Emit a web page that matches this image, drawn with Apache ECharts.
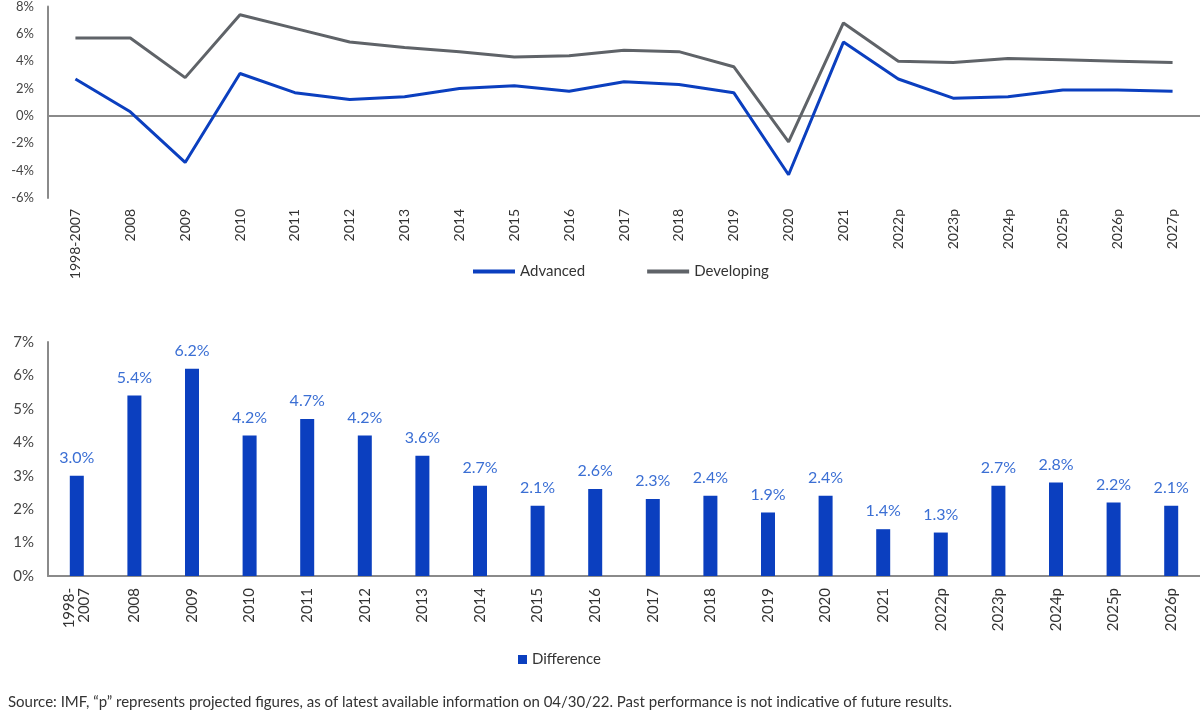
<!DOCTYPE html>
<html>
<head>
<meta charset="utf-8">
<script src="https://cdn.jsdelivr.net/npm/echarts@6/dist/echarts.min.js"></script>
<style>
html, body { margin: 0; padding: 0; background: #fff; }
#chart { width: 1200px; height: 723px; }
</style>
</head>
<body>
<div id="chart"></div>
<script>
// top chart: GDP growth
var lineYears = ['1998-2007','2008','2009','2010','2011','2012','2013','2014','2015','2016','2017','2018','2019','2020','2021','2022p','2023p','2024p','2025p','2026p','2027p'];
var advanced = [2.7, 0.3, -3.4, 3.1, 1.7, 1.2, 1.4, 2.0, 2.2, 1.8, 2.5, 2.3, 1.7, -4.3, 5.4, 2.7, 1.3, 1.4, 1.9, 1.9, 1.8];
var developing = [5.7, 5.7, 2.8, 7.4, 6.4, 5.4, 5.0, 4.7, 4.3, 4.4, 4.8, 4.7, 3.6, -1.9, 6.8, 4.0, 3.9, 4.2, 4.1, 4.0, 3.9];
var lineTicks = { min: -6, max: 8, interval: 2 };

// bottom chart: difference
var barYears = ['1998-\n2007','2008','2009','2010','2011','2012','2013','2014','2015','2016','2017','2018','2019','2020','2021','2022p','2023p','2024p','2025p','2026p'];
var difference = [3.0, 5.4, 6.2, 4.2, 4.7, 4.2, 3.6, 2.7, 2.1, 2.6, 2.3, 2.4, 1.9, 2.4, 1.4, 1.3, 2.7, 2.8, 2.2, 2.1];
var barTicks = { min: 0, max: 7, interval: 1 };

var sourceNote = 'Source: IMF, \u201cp\u201d represents projected figures, as of latest available information on 04/30/22. Past performance is not indicative of future results.';

var font = 'Lato, "Open Sans", sans-serif';
var blue = '#0b3fbf';
var gray = '#5f6368';
var axisGray = '#8a8a8a';

var myChart = echarts.init(document.getElementById('chart'));
var option = {
    animation: false,
    textStyle: { fontFamily: font },
    legend: [
        {
            left: 468,
            top: 259,
            itemWidth: 42,
            itemHeight: 4,
            itemGap: 62,
            textStyle: { fontSize: 15, color: '#333', fontFamily: font },
            data: [{ name: 'Advanced', icon: 'rect' }, { name: 'Developing', icon: 'rect' }]
        },
        {
            left: 513,
            top: 647,
            itemWidth: 9,
            itemHeight: 9,
            itemGap: 4,
            textStyle: { fontSize: 15, color: '#333', fontFamily: font },
            data: [{ name: 'Difference', icon: 'rect' }]
        }
    ],
    grid: [
        { left: 48, top: 5, width: 1160, height: 193 },
        { left: 48, top: 342, width: 1152, height: 234 }
    ],
    xAxis: [
        {
            type: 'category',
            gridIndex: 0,
            data: lineYears,
            axisLine: { show: false, onZero: false },
            axisTick: { show: false },
            axisLabel: { rotate: 90, margin: 11, fontSize: 14, color: '#333', fontFamily: font, interval: 0 }
        },
        {
            type: 'category',
            gridIndex: 1,
            data: barYears,
            axisLine: { show: true, lineStyle: { color: axisGray, width: 2 } },
            axisTick: { show: false },
            axisLabel: { rotate: 90, margin: 12, fontSize: 15, lineHeight: 15, color: '#333', fontFamily: font, interval: 0 }
        }
    ],
    yAxis: [
        {
            type: 'value',
            gridIndex: 0,
            min: lineTicks.min,
            max: lineTicks.max,
            interval: lineTicks.interval,
            axisLine: { show: true, lineStyle: { color: axisGray, width: 2 } },
            axisTick: { show: false },
            splitLine: { show: false },
            axisLabel: { formatter: '{value}%', fontSize: 13, color: '#444', margin: 14, fontFamily: font }
        },
        {
            type: 'value',
            gridIndex: 1,
            min: barTicks.min,
            max: barTicks.max,
            interval: barTicks.interval,
            axisLine: { show: true, lineStyle: { color: axisGray, width: 2 } },
            axisTick: { show: false },
            splitLine: { show: false },
            axisLabel: { formatter: '{value}%', fontSize: 15, color: '#444', margin: 14, fontFamily: font }
        }
    ],
    series: [
        {
            name: 'Advanced',
            type: 'line',
            xAxisIndex: 0,
            yAxisIndex: 0,
            showSymbol: false,
            symbol: 'none',
            z: 3,
            lineStyle: { color: blue, width: 3 },
            itemStyle: { color: blue },
            data: advanced,
            markLine: {
                silent: true,
                symbol: 'none',
                label: { show: false },
                lineStyle: { color: axisGray, width: 2, type: 'solid' },
                data: [{ yAxis: 0 }],
                z: 1
            }
        },
        {
            name: 'Developing',
            type: 'line',
            xAxisIndex: 0,
            yAxisIndex: 0,
            showSymbol: false,
            symbol: 'none',
            z: 2,
            lineStyle: { color: gray, width: 3 },
            itemStyle: { color: gray },
            data: developing
        },
        {
            name: 'Difference',
            type: 'bar',
            xAxisIndex: 1,
            yAxisIndex: 1,
            barWidth: 14,
            itemStyle: { color: blue },
            label: {
                show: true,
                position: 'top',
                distance: 10,
                fontSize: 16,
                color: '#3b6fd4',
                fontFamily: font,
                formatter: function (p) { return p.value.toFixed(1) + '%'; }
            },
            data: difference
        }
    ],
    graphic: [
        {
            type: 'text',
            left: 8,
            top: 695,
            style: { text: sourceNote, fontSize: 15, fill: '#333', fontFamily: font }
        }
    ]
};
myChart.setOption(option);
</script>
</body>
</html>
